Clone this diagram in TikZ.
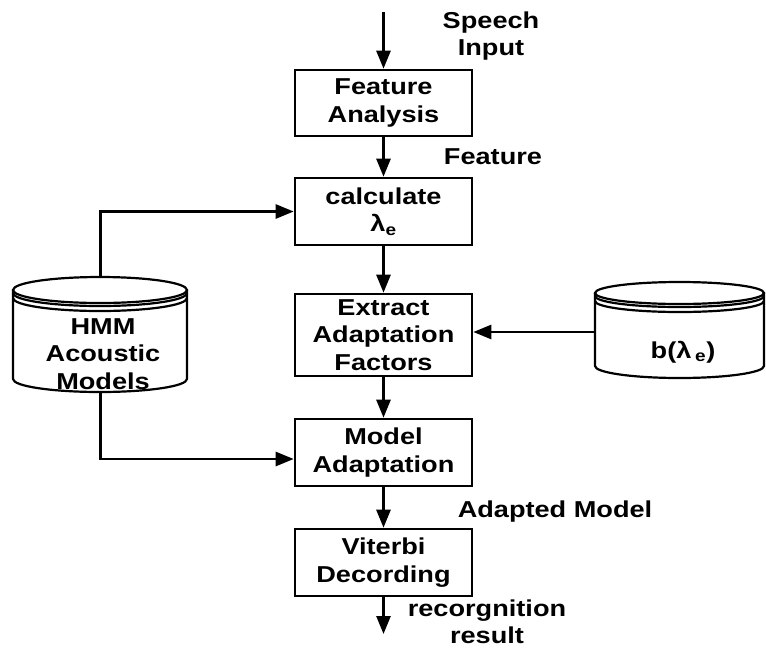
\documentclass[tikz,border=0pt]{standalone}
\usepackage{fontspec}
\setmainfont{Liberation Sans}[FakeStretch=1.18]
\usetikzlibrary{arrows.meta,calc}
\begin{document}
\begin{tikzpicture}[x=1pt,y=-1pt,
  font=\fontsize{23}{27.5}\selectfont\bfseries,
  stage/.style={draw,line width=2.6pt,minimum width=177pt,inner sep=0pt,align=center},
  flow/.style={line width=2.6pt,-{Triangle[length=18pt,width=14pt]}},
  tag/.style={align=center,inner sep=0pt},
  drum/.style={line width=2.2pt}]
\useasboundingbox (0,0) rectangle (766,649);

% processing stages
\node[stage,minimum height=66pt] (fa) at (383.5,103) {Feature\\Analysis};
\node[stage,minimum height=67pt] (ca) at (383.5,211.5) {calculate\\λ\textsubscript{e}};
\node[stage,minimum height=82pt] (ex) at (383.5,335) {Extract\\Adaptation\\Factors};
\node[stage,minimum height=67pt] (ma) at (383.5,452.5) {Model\\Adaptation};
\node[stage,minimum height=67pt] (vd) at (383.5,562.5) {Viterbi\\Decording};

% left database: HMM acoustic models (lower arcs run through angle 90, i.e. downwards)
\draw[drum] (100,290) ellipse [x radius=87, y radius=13];
\draw[drum] (13,293) arc[start angle=180,end angle=0,x radius=87,y radius=13];
\draw[drum] (13,298) arc[start angle=180,end angle=0,x radius=87,y radius=13];
\draw[drum] (13,290) -- (13,379) arc[start angle=180,end angle=0,x radius=87,y radius=13] -- (187,290);
\node[tag] (hmm) at (103,354) {HMM\\Acoustic\\Models};
\coordinate (lctop) at (100.5,277);
\coordinate (lcbot) at (100.5,392);

% right database: b(lambda_e)
\draw[drum] (679.5,293) ellipse [x radius=84.5, y radius=11];
\draw[drum] (595,296) arc[start angle=180,end angle=0,x radius=84.5,y radius=11];
\draw[drum] (595,301) arc[start angle=180,end angle=0,x radius=84.5,y radius=11];
\draw[drum] (595,293) -- (595,366) arc[start angle=180,end angle=0,x radius=84.5,y radius=12] -- (764,293);
\node[tag] (blam) at (683,352) {b(λ\,\textsubscript{e})};
\coordinate (rcleft) at (595,332);

% signal flow
\coordinate (in) at (383.5,12);
\coordinate (out) at (383.5,634);
\draw[flow] (in) -- (fa);
\draw[flow] (fa) -- (ca);
\draw[flow] (ca) -- (ex);
\draw[flow] (ex) -- (ma);
\draw[flow] (ma) -- (vd);
\draw[flow] (vd) -- (out);
\draw[flow] (lctop) |- (ca.west);
\draw[flow] (lcbot) |- ([yshift=-6.5pt]ma.west);
\draw[flow] (rcleft) -- (rcleft -| ex.east);

% labels
\node[tag] (lspeech) at (491,36) {Speech\\Input};
\node[tag] (lfeat) at (493,157) {Feature};
\node[tag] (ladapt) at (555,512) {Adapted Model};
\node[tag] (lresult) at (487,622) {recorgnition\\result};
\end{tikzpicture}
\end{document}
